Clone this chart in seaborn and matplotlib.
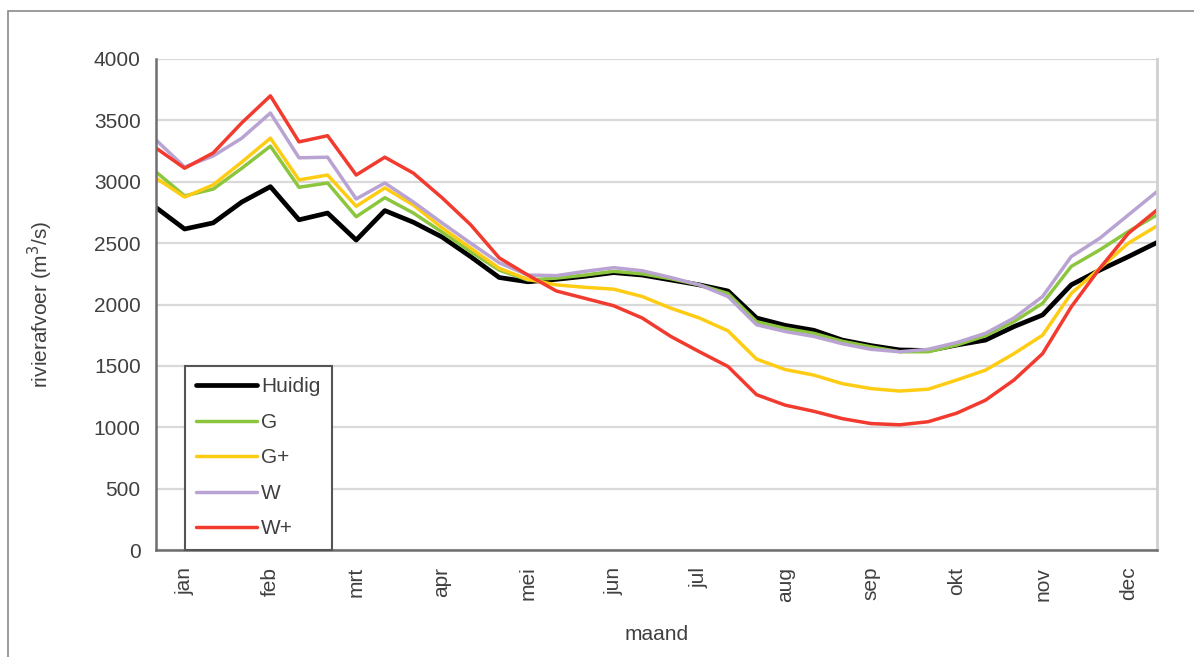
import matplotlib.pyplot as plt
import matplotlib.patches as mpatches
import pandas as pd
import seaborn as sns

# three values per month (decades), jan..dec
months = ['jan', 'feb', 'mrt', 'apr', 'mei', 'jun', 'jul', 'aug', 'sep', 'okt', 'nov', 'dec']
decade = list(range(36))

huidig = [2790, 2615, 2665, 2835, 2960, 2690, 2745, 2525, 2765, 2670, 2550, 2390,
          2220, 2185, 2205, 2230, 2260, 2240, 2200, 2160, 2110, 1890, 1830, 1790,
          1710, 1665, 1630, 1625, 1670, 1710, 1820, 1915, 2160, 2280, 2390, 2505]
g = [3080, 2885, 2940, 3110, 3290, 2955, 2990, 2715, 2870, 2745, 2590, 2430,
     2280, 2200, 2215, 2240, 2270, 2250, 2210, 2160, 2090, 1860, 1805, 1765,
     1700, 1655, 1615, 1615, 1670, 1745, 1860, 2010, 2310, 2445, 2595, 2730]
g_plus = [3030, 2875, 2975, 3160, 3355, 3015, 3055, 2800, 2950, 2810, 2625, 2460,
          2295, 2205, 2160, 2140, 2125, 2065, 1970, 1890, 1785, 1555, 1470, 1425,
          1355, 1315, 1295, 1310, 1385, 1465, 1600, 1750, 2090, 2295, 2500, 2640]
w = [3340, 3120, 3210, 3355, 3560, 3195, 3200, 2860, 2990, 2835, 2665, 2500,
     2340, 2240, 2235, 2270, 2300, 2275, 2220, 2160, 2065, 1835, 1780, 1740,
     1680, 1635, 1615, 1635, 1690, 1765, 1890, 2065, 2390, 2540, 2730, 2920]
w_plus = [3275, 3110, 3235, 3480, 3700, 3325, 3375, 3055, 3200, 3070, 2870, 2650,
          2380, 2240, 2110, 2050, 1990, 1890, 1740, 1615, 1495, 1265, 1180, 1130,
          1070, 1030, 1020, 1045, 1115, 1220, 1385, 1600, 1980, 2295, 2580, 2770]

scenarios = ['Huidig', 'G', 'G+', 'W', 'W+']
colors = ['#000000', '#8cc63f', '#ffcc14', '#b9a3d3', '#f23a2e']
widths = [3.4, 2.5, 2.5, 2.5, 2.5]

df = pd.DataFrame({
    'decade': decade * 5,
    'afvoer': huidig + g + g_plus + w + w_plus,
    'scenario': [s for s in scenarios for _ in decade],
})

sns.set_style('white')
plt.rcParams['font.family'] = ['Liberation Sans', 'DejaVu Sans']

fig = plt.figure(figsize=(11.94, 6.57), dpi=100)
ax = fig.add_axes([156 / 1194, 1 - 550 / 657, 1001 / 1194, 491 / 657])

for name, col, lw in zip(scenarios, colors, widths):
    sns.lineplot(data=df[df['scenario'] == name], x='decade', y='afvoer',
                 color=col, lw=lw, label=name, ax=ax)

ax.set_xlim(0, 35)
ax.set_ylim(0, 4000)
ax.set_yticks(range(0, 4001, 500))
ax.yaxis.grid(True, color='#d9d9d9', lw=1.6)
ax.set_axisbelow(True)

ax.set_xticks(range(0, 36, 3))
ax.set_xticklabels([])
ax.set_xticks(range(1, 36, 3), minor=True)
ax.set_xticklabels(months, minor=True, rotation=90)
ax.tick_params(axis='both', which='major', length=5, width=1.5, color='#6e6e6e',
               labelsize=15, labelcolor='#404040', pad=6)
ax.tick_params(axis='x', which='minor', length=0, labelsize=15, labelcolor='#404040', pad=12)

ax.set_xlabel('maand', fontsize=15, color='#404040', labelpad=17)
ax.set_ylabel('rivierafvoer (m$^3$/s)', fontsize=15, color='#404040', labelpad=28)

for side in ['left', 'bottom']:
    ax.spines[side].set_color('#6e6e6e')
    ax.spines[side].set_linewidth(1.8)
ax.spines['right'].set_color('#d0d0d0')
ax.spines['right'].set_linewidth(2)
ax.spines['top'].set_visible(False)

leg = ax.legend(loc='upper left', bbox_to_anchor=((185 - 156) / 1001, (550 - 366) / 491),
                fontsize=15, handlelength=2.9, handletextpad=0.2, labelspacing=0.79,
                borderpad=0.55, borderaxespad=0, fancybox=False, framealpha=1)
leg.get_frame().set_edgecolor('#555555')
leg.get_frame().set_linewidth(1.5)
for txt in leg.get_texts():
    txt.set_color('#404040')

fig.patches.append(mpatches.Rectangle((8 / 1194, -0.05), 1.1, 1 - 11 / 657 + 0.05,
                                      transform=fig.transFigure, fill=False,
                                      edgecolor='#8a8a8a', lw=1.2))

fig.savefig('out.png', dpi=100)
